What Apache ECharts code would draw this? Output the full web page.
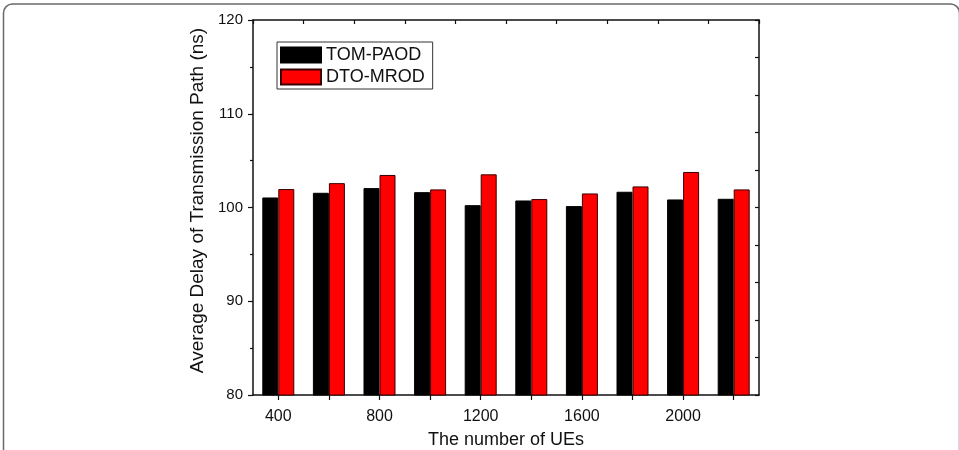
<!DOCTYPE html>
<html>
<head>
<meta charset="utf-8">
<script src="https://cdn.jsdelivr.net/npm/echarts@6/dist/echarts.min.js"></script>
<style>html,body{margin:0;padding:0;background:#fff;}#c{width:959px;height:450px;}</style>
</head>
<body>
<div id="c"></div>
<script>
const categories = ['400','600','800','1000','1200','1400','1600','1800','2000','2200'];
const tomPaod = [101.07, 101.57, 102.07, 101.64, 100.25, 100.75, 100.15, 101.68, 100.86, 100.93];
const dtoMrod = [101.97, 102.6, 103.47, 101.93, 103.54, 100.9, 101.5, 102.25, 103.79, 101.93];
const seriesNames = ['TOM-PAOD', 'DTO-MROD'];
const yTitle = 'Average Delay of Transmission Path (ns)';
const xTitle = 'The number of UEs';

const FONT = '"Liberation Sans", Arial, sans-serif';
const AX = '#111';
const chart = echarts.init(document.getElementById('c'));
chart.setOption({
  animation: false,
  backgroundColor: '#fff',
  textStyle: { fontFamily: FONT },
  graphic: [{
    type: 'rect', left: 1, top: 1.5,
    shape: { width: 956, height: 480, r: 9 },
    style: { fill: 'none', stroke: '#6a6a6a', lineWidth: 1.5 },
    silent: true
  }],
  grid: { left: 253, right: 200, top: 20, bottom: 55, containLabel: false, outerBoundsMode: 'none' },
  legend: {
    left: 277, top: 42, orient: 'vertical',
    itemWidth: 40, itemHeight: 15, itemGap: 4,
    padding: [4, 8, 3, 3],
    borderColor: '#333', borderWidth: 1,
    icon: 'rect',
    textStyle: { fontFamily: FONT, fontSize: 18, lineHeight: 15, color: '#111' },
    data: seriesNames
  },
  xAxis: [{
    type: 'category', data: categories, position: 'bottom',
    axisLine: { lineStyle: { color: AX, width: 1.5 } },
    axisTick: { show: true, alignWithLabel: true, interval: 0, inside: false, length: 5, lineStyle: { color: AX, width: 1.2 } },
    axisLabel: { interval: 1, color: '#111', fontSize: 16, fontFamily: FONT, margin: 14 },
    name: xTitle, nameLocation: 'middle', nameGap: 36,
    nameTextStyle: { fontSize: 18, color: '#111', fontFamily: FONT }
  }, {
    type: 'category', data: categories, position: 'top',
    axisLine: { show: true, lineStyle: { color: AX, width: 1.5 } },
    axisTick: { show: true, inside: true, interval: 0, length: 4, lineStyle: { color: AX, width: 1.2 } },
    axisLabel: { show: false }
  }],
  yAxis: [{
    type: 'value', min: 80, max: 120, interval: 10, position: 'left',
    axisLine: { show: true, lineStyle: { color: AX, width: 1.5 } },
    axisTick: { show: true, inside: false, length: 5, lineStyle: { color: AX, width: 1.2 } },
    minorTick: { show: true, splitNumber: 2, length: 3, lineStyle: { color: AX, width: 1.2 } },
    splitLine: { show: false },
    axisLabel: { color: '#111', fontSize: 15, fontFamily: FONT, margin: 10 },
    name: yTitle, nameLocation: 'middle', nameGap: 42, nameRotate: 90,
    nameTextStyle: { fontSize: 19, color: '#111', fontFamily: FONT, padding: [0, 0, 0, 14] }
  }, {
    type: 'value', min: 80, max: 120, interval: 4, position: 'right',
    axisLine: { show: true, lineStyle: { color: AX, width: 1.5 } },
    axisTick: { show: true, inside: true, length: 4, lineStyle: { color: AX, width: 1.2 } },
    splitLine: { show: false },
    axisLabel: { show: false }
  }],
  series: [{
    name: seriesNames[0], type: 'bar', data: tomPaod,
    xAxisIndex: 0, yAxisIndex: 0,
    barWidth: 16, barGap: '0%',
    itemStyle: { color: '#000000', borderColor: '#000', borderWidth: 1 }
  }, {
    name: seriesNames[1], type: 'bar', data: dtoMrod,
    xAxisIndex: 0, yAxisIndex: 0,
    barWidth: 16, barGap: '0%',
    itemStyle: { color: '#ff0000', borderColor: '#3a0000', borderWidth: 1 }
  }]
});
</script>
</body>
</html>
